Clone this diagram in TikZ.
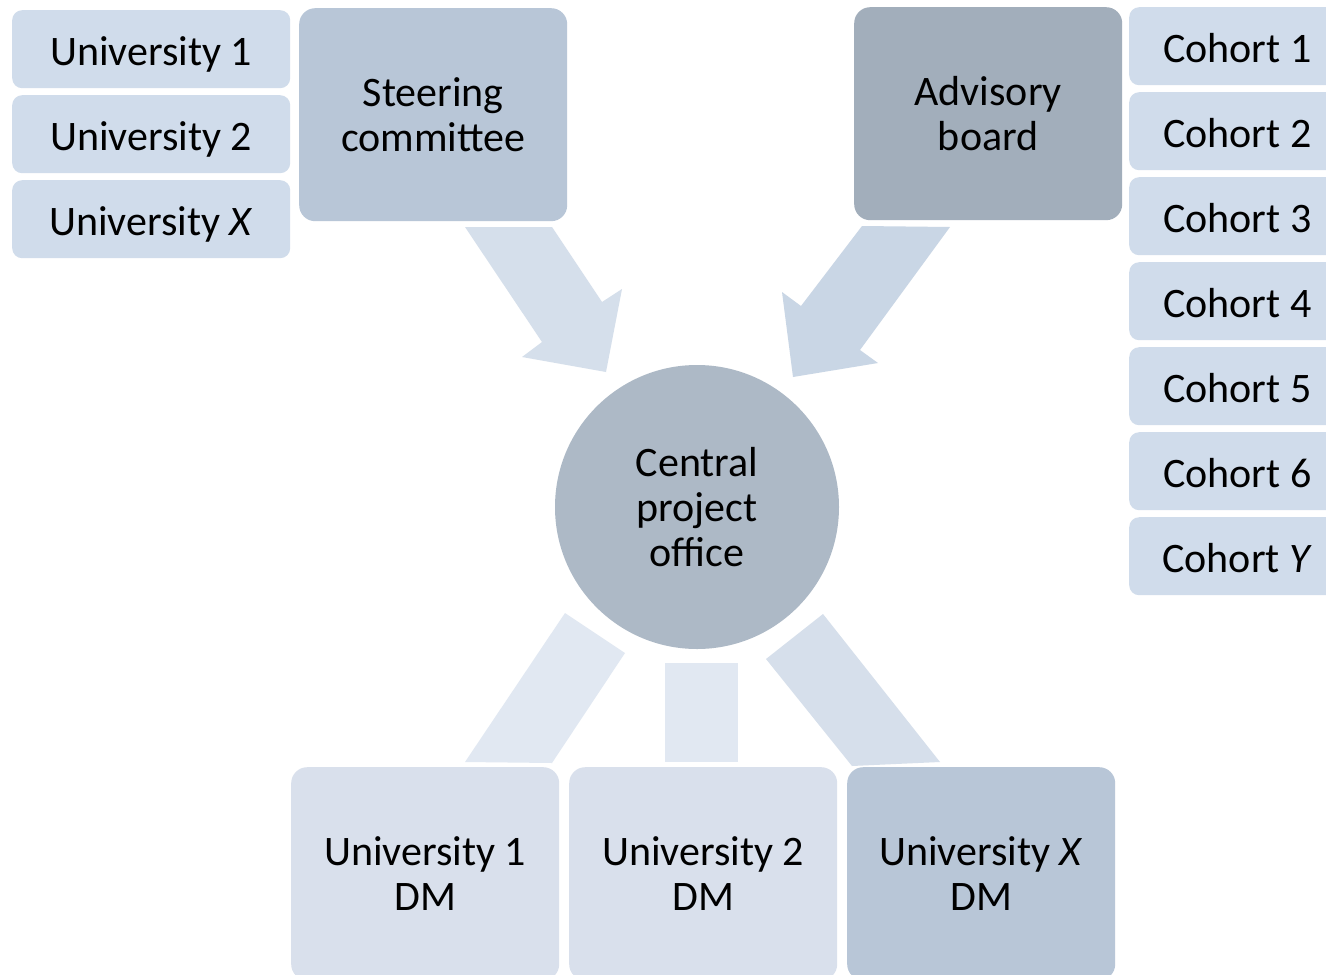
\documentclass[tikz,border=0pt]{standalone}
\usepackage{fontspec}
\setmainfont{Carlito}
\definecolor{smallbox}{HTML}{D0DCEB}
\definecolor{steer}{HTML}{B8C6D7}
\definecolor{advis}{HTML}{A2AEBB}
\definecolor{circ}{HTML}{ADB9C6}
\definecolor{dmbox}{HTML}{D9E0EC}
\definecolor{dmx}{HTML}{B8C6D7}
\definecolor{arrA}{HTML}{D5DFEB}
\definecolor{arrB}{HTML}{C9D6E5}
\definecolor{conL}{HTML}{E1E8F2}
\definecolor{conR}{HTML}{D6DFEB}
\tikzset{
  txt/.style={font=\fontsize{42}{45}\selectfont, align=center, text=black, inner sep=0pt},
  smallb/.style={txt, fill=smallbox, rounded corners=10pt, anchor=north west, minimum height=78pt, text height=36pt, text depth=4pt},
  bigb/.style={txt, rounded corners=16pt, anchor=north west, minimum width=268pt, minimum height=213pt},
  blockarrow/.style={draw=none}
}
\begin{document}
\begin{tikzpicture}[x=1pt,y=-1pt]
\useasboundingbox (0,0) rectangle (1326,975);
\clip (0,0) rectangle (1326,975);
\fill[white] (0,0) rectangle (1326,975);
% left university boxes
\node[smallb, minimum width=278pt] (u1) at (12,10) {University 1};
\node[smallb, minimum width=278pt] (u2) at (12,95) {University 2};
\node[smallb, minimum width=278pt] (ux) at (12,180) {University \textit{X}};
% steering and advisory
\node[bigb, fill=steer] (steer) at (299,8) {Steering\\committee};
\node[bigb, fill=advis] (adv) at (854,7) {Advisory\\board};
% cohorts
\node[smallb, minimum width=216pt] (c1) at (1129,7) {Cohort 1};
\node[smallb, minimum width=216pt] (c2) at (1129,92) {Cohort 2};
\node[smallb, minimum width=216pt] (c3) at (1129,177) {Cohort 3};
\node[smallb, minimum width=216pt] (c4) at (1129,262) {Cohort 4};
\node[smallb, minimum width=216pt] (c5) at (1129,347) {Cohort 5};
\node[smallb, minimum width=216pt] (c6) at (1129,432) {Cohort 6};
\node[smallb, minimum width=216pt] (cy) at (1129,517) {Cohort \textit{Y}};
% central office
\node[txt, circle, fill=circ, minimum size=284pt] (cpo) at (697,507) {Central\\project\\office};
% DM boxes
\node[bigb, fill=dmbox] (dm1) at (291,767) {University 1\\DM};
\node[bigb, fill=dmbox] (dm2) at (569,767) {University 2\\DM};
\node[bigb, fill=dmx] (dmx) at (847,767) {University \textit{X}\\DM};
% block arrows
\fill[arrA] (465,227) -- (552,227) -- (602,302) -- (622,289) -- (606,372) -- (522,357) -- (542,342) -- cycle;
\fill[arrB] (862,226) -- (950,227) -- (860,350) -- (878,363) -- (793,377) -- (782,292) -- (801,306) -- cycle;
% connectors to DM
\fill[conL] (565,613) -- (625,653) -- (552,763) -- (465,762) -- cycle;
\fill[conL] (665,663) rectangle (738,762);
\fill[conR] (823,614) -- (940,762) -- (852,766) -- (766,659) -- cycle;
\end{tikzpicture}
\end{document}
